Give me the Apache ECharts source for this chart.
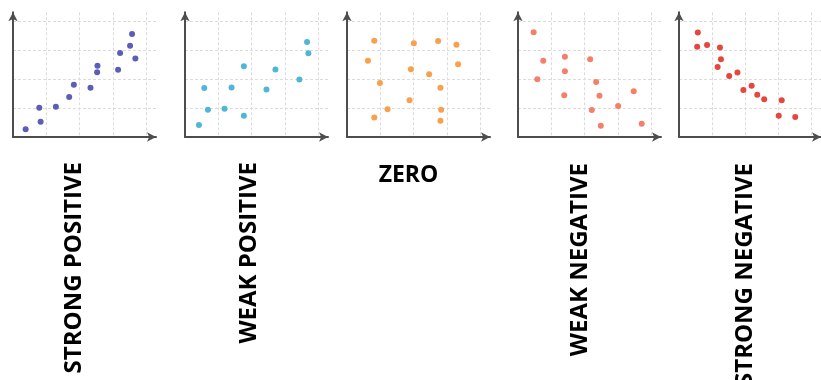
<!DOCTYPE html>
<html>
<head>
<meta charset="utf-8">
<script src="https://cdn.jsdelivr.net/npm/echarts@6/dist/echarts.min.js"></script>
<style>
  html, body { margin: 0; padding: 0; background: #fff; }
  #main { width: 821px; height: 380px; }
</style>
</head>
<body>
<div id="main"></div>
<script>
// panel titles and dot colours
const panelLabels = ["STRONG POSITIVE", "WEAK POSITIVE", "ZERO", "WEAK NEGATIVE", "STRONG NEGATIVE"];
const panelColors = ["#5b5db8", "#4fb6d6", "#f8a04c", "#f4806c", "#e5473c"];

// points, in grid units (0..4)
const strongPositive = [
  [0.38, 0.27], [0.83, 0.53], [0.79, 1.01], [1.29, 1.04], [1.69, 1.38],
  [1.83, 1.80], [2.33, 1.70], [2.54, 2.46], [2.53, 2.23], [3.16, 2.32],
  [3.22, 2.90], [3.68, 2.71], [3.52, 3.15], [3.58, 3.55]
];
const weakPositive = [
  [0.42, 0.41], [0.69, 0.94], [0.58, 1.69], [1.19, 0.97], [1.40, 1.71],
  [1.77, 0.73], [1.77, 2.44], [2.45, 1.64], [2.72, 2.33], [3.44, 1.98],
  [3.71, 2.89], [3.67, 3.28]
];
const zeroCorr = [
  [0.82, 3.32], [2.01, 3.23], [2.74, 3.31], [3.29, 3.18], [0.63, 2.63],
  [1.92, 2.34], [2.47, 2.16], [3.34, 2.51], [0.99, 1.86], [2.81, 1.70],
  [1.88, 1.27], [1.22, 0.96], [2.83, 0.94], [0.82, 0.67], [2.81, 0.56]
];
const weakNegative = [
  [0.47, 3.61], [0.76, 2.63], [1.41, 2.77], [2.17, 2.68], [1.41, 2.27],
  [0.58, 1.99], [2.35, 1.90], [3.48, 1.58], [1.39, 1.44], [2.45, 1.42],
  [3.01, 1.07], [2.22, 0.93], [2.49, 0.39], [3.72, 0.46]
];
const strongNegative = [
  [0.57, 3.60], [0.55, 3.11], [0.85, 3.17], [1.24, 3.09], [1.27, 2.68],
  [1.17, 2.41], [1.52, 2.10], [1.77, 2.22], [1.95, 1.62], [2.20, 1.77],
  [2.37, 1.46], [2.58, 1.30], [3.11, 1.27], [3.02, 0.73], [3.52, 0.69]
];
const panelData = [strongPositive, weakPositive, zeroCorr, weakNegative, strongNegative];

const panelLeft = [13, 185, 347, 518, 679];

let myChart = echarts.init(document.getElementById("main"));

function makeAxis(i) {
  return {
    type: "value",
    gridIndex: i,
    min: 0,
    max: 4.3,
    interval: 1,
    axisLine: {
      show: true,
      symbol: ["none", "arrow"],
      symbolSize: [7, 9],
      lineStyle: { color: "#4d4d4d", width: 2 }
    },
    axisTick: { show: false },
    axisLabel: { show: false },
    splitLine: {
      show: true,
      showMaxLine: false,
      lineStyle: { color: "#dcdcdc", type: [3, 2], width: 1 }
    }
  };
}

let grids = [], xAxes = [], yAxes = [], series = [];
for (let i = 0; i < 5; i++) {
  grids.push({ left: panelLeft[i], top: 12.3, width: 143, height: 124.7 });
  xAxes.push(makeAxis(i));
  yAxes.push(makeAxis(i));
  series.push({
    type: "scatter",
    xAxisIndex: i,
    yAxisIndex: i,
    symbolSize: 6,
    itemStyle: { color: panelColors[i], opacity: 1 },
    data: panelData[i]
  });
}

// vertical labels: [centre x, top end y]
const vertPos = { 0: [74.5, 162], 1: [249.5, 162], 3: [580.5, 163], 4: [745.5, 163] };
let graphics = [];
for (let i = 0; i < 5; i++) {
  if (i === 2) {
    graphics.push({
      type: "text",
      x: 408.5,
      y: 175,
      style: {
        text: panelLabels[i],
        font: "bold 23px 'Open Sans'",
        fill: "#000",
        textAlign: "center", align: "center",
        textVerticalAlign: "middle", verticalAlign: "middle"
      }
    });
  } else {
    graphics.push({
      type: "text",
      x: vertPos[i][0],
      y: vertPos[i][1],
      rotation: Math.PI / 2,
      style: {
        text: panelLabels[i],
        font: "bold 24px 'Open Sans'",
        fill: "#000",
        textAlign: "right", align: "right",
        textVerticalAlign: "middle", verticalAlign: "middle"
      }
    });
  }
}

myChart.setOption({
  animation: false,
  grid: grids,
  xAxis: xAxes,
  yAxis: yAxes,
  series: series,
  graphic: graphics
});
</script>
</body>
</html>
